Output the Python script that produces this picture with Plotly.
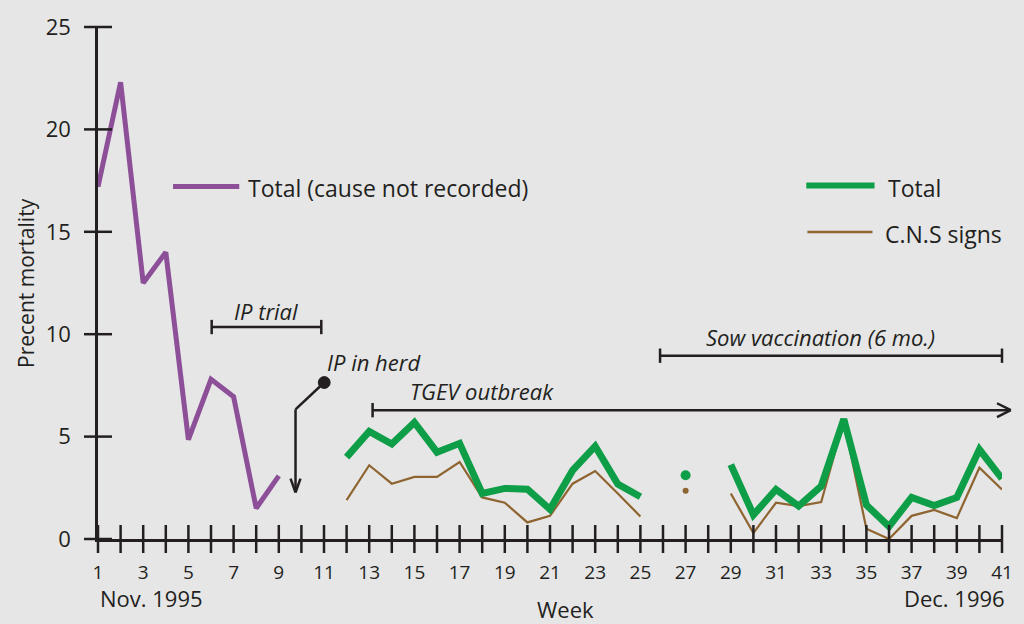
import plotly.graph_objects as go

# ---------------- data ----------------
weeks_early = list(range(1, 10))
total_early = [17.2, 22.3, 12.5, 14.0, 4.85, 7.8, 6.95, 1.5, 3.08]

weeks_late = list(range(12, 42))
total_late = [4.0, 5.25, 4.64, 5.69, 4.24, 4.67, 2.22, 2.47, 2.43, 1.45, 3.35, 4.53, 2.68, 2.06,
              None, 3.11, None,
              3.63, 1.18, 2.42, 1.61, 2.58, 5.85, 1.66, 0.61, 2.03, 1.63, 2.03, 4.37, 2.95]
cns_late = [1.9, 3.6, 2.7, 3.03, 3.03, 3.76, 2.03, 1.77, 0.81, 1.13, 2.7, 3.32, 2.22, 1.1,
            None, 2.35, None,
            2.22, 0.29, 1.77, 1.61, 1.8, 5.77, 0.5, 0.0, 1.13, 1.42, 1.02, 3.48, 2.42]

x_ticks = list(range(1, 42))
x_tick_labels = [str(w) if w % 2 == 1 else "" for w in x_ticks]
y_ticks = [0, 5, 10, 15, 20, 25]

PURPLE = "#8c4f98"
GREEN = "#0f9e48"
BROWN = "#8e6430"
INK = "#231f20"
BG = "#e6e6e6"
FONT = "Open Sans"

X0, X1 = 1, 41
Y0, Y1 = 0, 25
PW, PH = 915, 517  # plot area in px


def isolated(xs, ys):
    out_x, out_y = [], []
    for i, v in enumerate(ys):
        if v is None:
            continue
        prev_none = i == 0 or ys[i - 1] is None
        next_none = i == len(ys) - 1 or ys[i + 1] is None
        if prev_none and next_none:
            out_x.append(xs[i])
            out_y.append(v)
    return out_x, out_y


def px(w):
    return (w - X0) / (X1 - X0)


def py(v):
    return (v - Y0) / (Y1 - Y0)


fig = go.Figure()

fig.add_trace(go.Scatter(x=weeks_early, y=total_early, mode="lines",
                         line=dict(color=PURPLE, width=5), hoverinfo="skip"))
fig.add_trace(go.Scatter(x=weeks_late, y=cns_late, mode="lines", connectgaps=False,
                         line=dict(color=BROWN, width=2.2), hoverinfo="skip"))
fig.add_trace(go.Scatter(x=weeks_late, y=total_late, mode="lines", connectgaps=False,
                         line=dict(color=GREEN, width=7), hoverinfo="skip"))
ix, iy = isolated(weeks_late, total_late)
fig.add_trace(go.Scatter(x=ix, y=iy, mode="markers", marker=dict(color=GREEN, size=10),
                         hoverinfo="skip"))
ix, iy = isolated(weeks_late, cns_late)
fig.add_trace(go.Scatter(x=ix, y=iy, mode="markers", marker=dict(color=BROWN, size=6),
                         hoverinfo="skip"))

# crossing tick marks
fig.add_trace(go.Scatter(x=x_ticks, y=[0] * len(x_ticks), mode="markers", cliponaxis=False,
                         marker=dict(symbol="line-ns", size=20, line=dict(color=INK, width=2.5)),
                         hoverinfo="skip"))
fig.add_trace(go.Scatter(x=[1] * len(y_ticks), y=y_ticks, mode="markers", cliponaxis=False,
                         marker=dict(symbol="line-ew", size=20, line=dict(color=INK, width=2.5)),
                         hoverinfo="skip"))

shapes = []
annotations = []


def seg(x0, y0, x1, y1, color=INK, width=2.5):
    shapes.append(dict(type="line", xref="paper", yref="paper",
                       x0=px(x0), y0=py(y0), x1=px(x1), y1=py(y1),
                       line=dict(color=color, width=width)))


def text(x, y, s, anchor="left", italic=False, size=23):
    annotations.append(dict(x=px(x), y=py(y), xref="paper", yref="paper", text=s,
                            showarrow=False, xanchor=anchor, yanchor="middle",
                            font=dict(family=FONT, size=size, color=INK,
                                      style="italic" if italic else "normal")))


def chevron(xt, yt, direction, length_px=14, half_px=7):
    # open arrow head drawn from two strokes
    if direction == "right":
        dx = length_px / PW * (X1 - X0)
        dy = half_px / PH * (Y1 - Y0)
        seg(xt - dx, yt + dy, xt, yt)
        seg(xt - dx, yt - dy, xt, yt)
    else:  # down
        dx = half_px / PW * (X1 - X0)
        dy = length_px / PH * (Y1 - Y0)
        seg(xt - dx, yt + dy, xt, yt)
        seg(xt + dx, yt + dy, xt, yt)


# legend
seg(4.32, 17.21, 7.25, 17.21, PURPLE, 5)
text(7.56, 17.15, "Total (cause not recorded)")
seg(32.34, 17.26, 35.36, 17.26, GREEN, 6)
text(35.85, 17.15, "Total")
seg(32.39, 14.99, 35.27, 14.99, BROWN, 2.5)
text(35.75, 14.9, "C.N.S signs")

# IP trial
seg(6.03, 10.35, 10.88, 10.35)
seg(6.03, 10.0, 6.03, 10.7)
seg(10.88, 10.0, 10.88, 10.7)
text(8.43, 11.12, "IP trial", anchor="center", italic=True, size=22)

# IP in herd
text(11.05, 8.66, "IP in herd", italic=True, size=22)
shapes.append(dict(type="circle", xref="paper", yref="paper",
                   x0=px(11.01) - 6 / PW, x1=px(11.01) + 6 / PW,
                   y0=py(7.64) - 6 / PH, y1=py(7.64) + 6 / PH,
                   fillcolor=INK, line=dict(color=INK, width=1)))
seg(11.01, 7.64, 9.74, 6.33)
seg(9.74, 6.33, 9.74, 2.3)
chevron(9.74, 2.27, "down", length_px=14, half_px=5)

# TGEV outbreak
text(14.73, 7.25, "TGEV outbreak", italic=True, size=22)
seg(13.15, 6.29, 41.35, 6.29)
chevron(41.39, 6.29, "right")
seg(13.15, 5.94, 13.15, 6.64)

# Sow vaccination
text(32.96, 9.86, "Sow vaccination (6 mo.)", anchor="center", italic=True, size=22)
seg(25.87, 8.95, 41.0, 8.95)
seg(25.87, 8.6, 25.87, 9.3)
seg(41.0, 8.6, 41.0, 9.3)

# axis sub-labels
annotations.append(dict(x=0.0, y=-0.115, xref="paper", yref="paper", text="Nov. 1995",
                        showarrow=False, xanchor="left", yanchor="middle",
                        font=dict(family=FONT, size=22, color=INK)))
annotations.append(dict(x=1.0055, y=-0.115, xref="paper", yref="paper", text="Dec. 1996",
                        showarrow=False, xanchor="right", yanchor="middle",
                        font=dict(family=FONT, size=22, color=INK)))
annotations.append(dict(x=0.517, y=-0.136, xref="paper", yref="paper", text="Week",
                        showarrow=False, xanchor="center", yanchor="middle",
                        font=dict(family=FONT, size=22, color=INK)))
annotations.append(dict(x=-0.0797, y=0.5, xref="paper", yref="paper", text="Precent mortality",
                        showarrow=False, xanchor="center", yanchor="middle", textangle=-90,
                        font=dict(family=FONT, size=21, color=INK)))

fig.update_layout(
    width=1024, height=624,
    margin=dict(l=98, r=11, t=22, b=85),
    paper_bgcolor=BG, plot_bgcolor=BG,
    showlegend=False,
    shapes=shapes, annotations=annotations,
    xaxis=dict(range=[X0, X1], tickmode="array", tickvals=x_ticks, ticktext=x_tick_labels,
               showgrid=False, zeroline=False, showline=True, linecolor=INK, linewidth=2.5,
               ticks="outside", ticklen=14, tickcolor="rgba(0,0,0,0)",
               tickfont=dict(family=FONT, size=19, color=INK), fixedrange=True),
    yaxis=dict(range=[Y0, Y1], tickmode="array", tickvals=y_ticks,
               showgrid=False, zeroline=False, showline=True, linecolor=INK, linewidth=2.5,
               ticks="outside", ticklen=20, tickcolor="rgba(0,0,0,0)",
               tickfont=dict(family=FONT, size=22, color=INK), fixedrange=True),
)

fig.write_html("out.html", config={"displayModeBar": False},
               post_script="document.body.style.margin='0';document.body.style.overflow='hidden';")
